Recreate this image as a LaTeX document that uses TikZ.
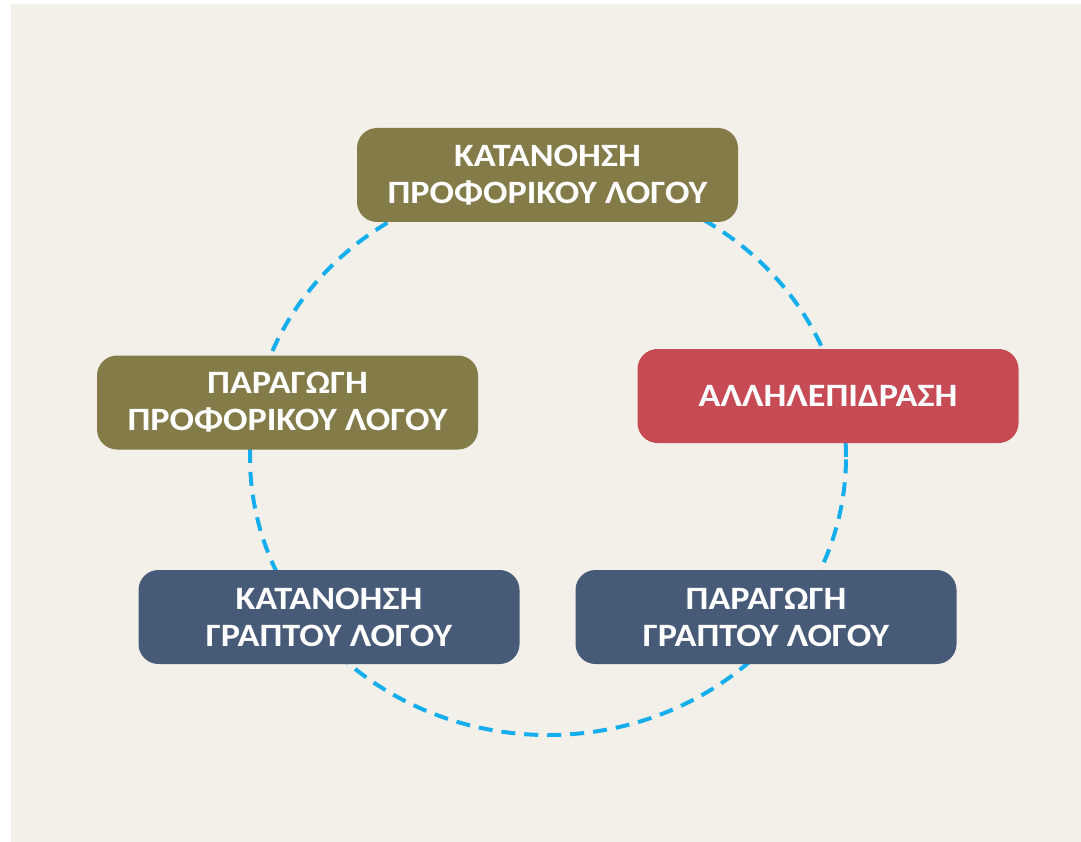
\documentclass[tikz,border=0pt]{standalone}
\usepackage{fontspec}
\setmainfont{Carlito}[FakeStretch=1.11]
\definecolor{bgbeige}{HTML}{F3F0EA}
\definecolor{olivebox}{HTML}{837B48}
\definecolor{redbox}{HTML}{C74B55}
\definecolor{navybox}{HTML}{475A78}
\definecolor{ringblue}{HTML}{15AEEC}
\tikzset{
  skillbox/.style={rectangle, rounded corners=20pt, minimum width=381pt, minimum height=94pt,
    inner sep=0pt, align=center, text=white,
    font=\fontsize{32.6pt}{37pt}\selectfont\bfseries},
  ring/.style={draw=ringblue, line width=4pt, dash pattern=on 14pt off 9pt}
}
\begin{document}
\begin{tikzpicture}[x=1pt,y=-1pt]
\useasboundingbox (0,0) rectangle (1081,842);
\fill[white] (0,0) rectangle (1081,842);
\fill[bgbeige] (11,4) rectangle (1081,842);
\coordinate (c) at (548,457);
\draw[ring] (c) ellipse [x radius=298pt, y radius=278pt];
\node[skillbox, fill=olivebox] (kpl) at (547.5,175) {ΚΑΤΑΝΟΗΣΗ\\ΠΡΟΦΟΡΙΚΟΥ ΛΟΓΟΥ};
\node[skillbox, fill=olivebox] (ppl) at (287.5,402.5) {ΠΑΡΑΓΩΓΗ\\ΠΡΟΦΟΡΙΚΟΥ ΛΟΓΟΥ};
\node[skillbox, fill=redbox] (all) at (828,396) {ΑΛΛΗΛΕΠΙΔΡΑΣΗ};
\node[skillbox, fill=navybox] (kgl) at (329,617) {ΚΑΤΑΝΟΗΣΗ\\ΓΡΑΠΤΟΥ ΛΟΓΟΥ};
\node[skillbox, fill=navybox] (pgl) at (766,617) {ΠΑΡΑΓΩΓΗ\\ΓΡΑΠΤΟΥ ΛΟΓΟΥ};
\end{tikzpicture}
\end{document}
